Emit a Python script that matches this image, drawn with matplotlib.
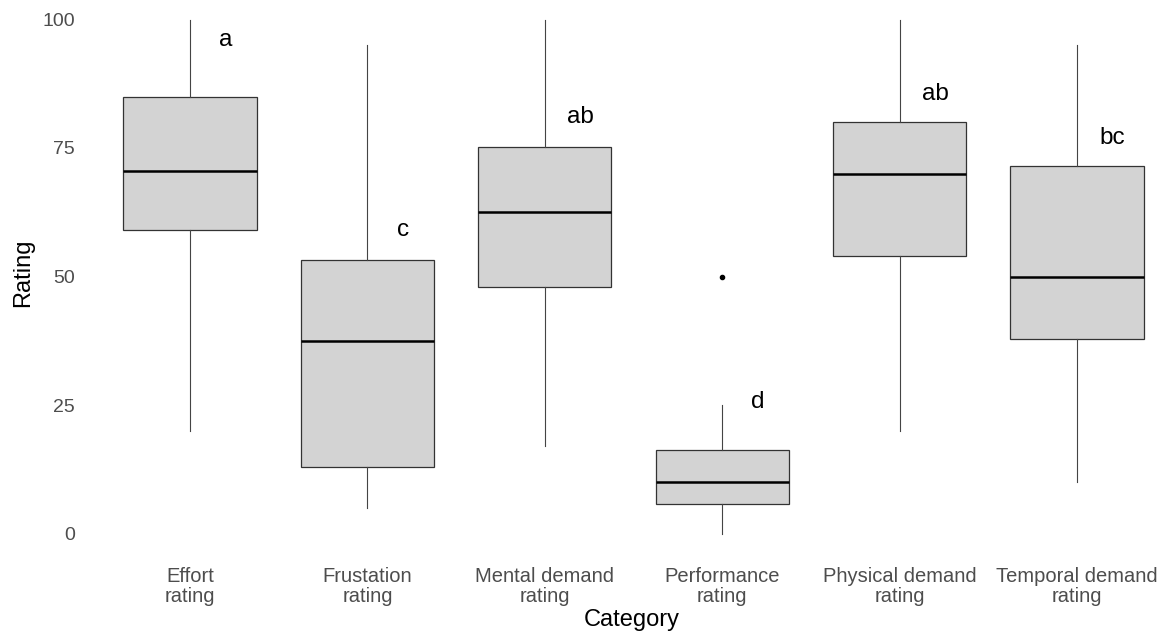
import numpy as np
import matplotlib
matplotlib.use("Agg")
import matplotlib.pyplot as plt

plt.rcParams['font.family'] = ['Liberation Sans', 'DejaVu Sans']

categories = ["Effort\nrating", "Frustation\nrating", "Mental demand\nrating",
              "Performance\nrating", "Physical demand\nrating", "Temporal demand\nrating"]
whis_low = [20, 5, 17, 0, 20, 10]
q1 = [59, 13, 48, 5.75, 54, 37.75]
median = [70.5, 37.5, 62.5, 10, 70, 50]
q3 = [85, 53.25, 75.25, 16.25, 80, 71.5]
whis_high = [100, 95, 100, 25, 100, 95]
outliers = [[], [], [], [50], [], []]

letters = ["a", "c", "ab", "d", "ab", "bc"]
letter_y = [96, 59, 81, 25.5, 85.5, 77]

W, H = 1167, 634
fig = plt.figure(figsize=(W / 100, H / 100), dpi=100)
# panel spans from x=84px to the right edge, y from top to 559px
ax = fig.add_axes([84 / W, 1 - 559 / H, 1 - 84 / W, 559 / H])

stats = []
for i in range(len(categories)):
    stats.append(dict(whislo=whis_low[i], q1=q1[i], med=median[i], q3=q3[i],
                      whishi=whis_high[i], fliers=outliers[i]))

pos = np.arange(1, len(categories) + 1)
ax.bxp(stats, positions=pos, widths=0.75, patch_artist=True, showcaps=False,
       boxprops=dict(facecolor="#d3d3d3", edgecolor="#333333", linewidth=0.9),
       whiskerprops=dict(color="#444444", linewidth=0.8),
       medianprops=dict(color="black", linewidth=1.8),
       flierprops=dict(marker="o", markerfacecolor="black", markeredgecolor="black",
                       markersize=3, linestyle="none"))

for x, lab, y in zip(pos, letters, letter_y):
    ax.text(x + 0.2, y, lab, ha="center", va="center", fontsize=17.5, color="black")

ax.set_xlim(0.4025, 0.4025 + (W - 84) / 177.4)
ax.set_ylim((533.5 - 559) / 5.14, 533.5 / 5.14)
ax.set_yticks([0, 25, 50, 75, 100])
ax.set_yticklabels(["0", "25", "50", "75", "100"])
ax.set_xticks(pos)
ax.set_xticklabels(categories, linespacing=1.05)
ax.tick_params(axis="both", length=0, colors="#4d4d4d")
ax.tick_params(axis="x", pad=6, labelsize=14.5)
ax.tick_params(axis="y", pad=6.5, labelsize=14)
for s in ax.spines.values():
    s.set_visible(False)

ax.set_ylabel("Rating", fontsize=17, color="black")
ax.yaxis.set_label_coords((34 - 84) / (W - 84), (559 - 273) / 559)
ax.set_xlabel("Category", fontsize=17, color="black")
ax.xaxis.set_label_coords((632 - 84) / (W - 84), -(609 - 559) / 559)

fig.savefig("out.png", dpi=100)
